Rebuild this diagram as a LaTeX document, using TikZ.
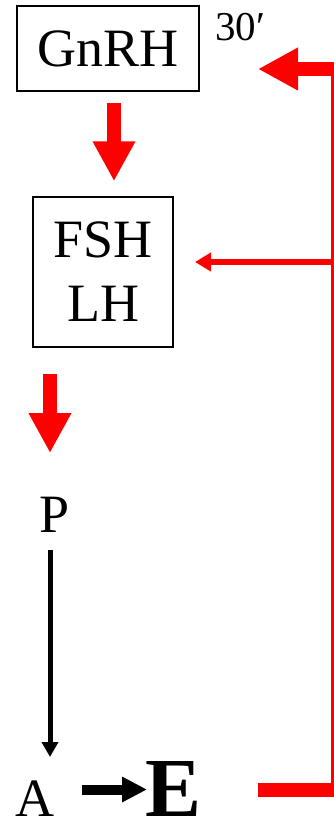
\documentclass[tikz,border=0pt]{standalone}
\usepackage{fontspec}
\setmainfont{Liberation Serif}
\usetikzlibrary{arrows.meta}
\tikzset{
  boxnode/.style={draw, line width=1.5pt, inner sep=0pt, font=\fontsize{54}{64}\selectfont},
  plain/.style={inner sep=0pt, font=\fontsize{54}{64}\selectfont},
  bigred/.style={draw=red, line width=14pt, -{Triangle[length=40pt,width=40pt]}},
  thinred/.style={draw=red, line width=5.5pt, -{Triangle[length=16pt,width=18pt]}},
  blackline/.style={draw=black, line width=5pt, -{Triangle[length=15pt,width=16pt]}},
  blackthick/.style={draw=black, line width=10pt, -{Triangle[length=25pt,width=24pt]}},
  fbline/.style={draw=red, line width=14pt},
  fbthin/.style={draw=red, line width=3pt}
}
\begin{document}
\begin{tikzpicture}[x=1pt,y=1pt]
\useasboundingbox (0,0) rectangle (334,-823);
\node[boxnode, minimum width=182pt, minimum height=85pt] (gnrh) at (108,-48.5) {GnRH};
\node[boxnode, minimum width=140pt, minimum height=150pt, align=center] (fsh) at (103,-272) {FSH\\LH};
\node[inner sep=0pt, font=\fontsize{41}{48}\selectfont] (t30) at (240,-27.5) {30′};
\node[plain] (P) at (54.5,-514.5) {P};
\node[plain] (A) at (35,-799) {A};
\node[inner sep=0pt, font=\fontsize{84}{90}\bfseries] (E) at (173.5,-789) {E};
\coordinate (pStart) at (50,-550);
\coordinate (aTop) at (50,-757);
\coordinate (pTop) at (50,-453);
\coordinate (fshBot) at (50,-374);
\coordinate (fb1) at (258,-789.5);
\coordinate (fb2) at (334,-789.5);
\coordinate (fb3) at (332.5,-796);
\coordinate (fb4) at (332.5,-62);
\coordinate (fb5) at (334,-69);
\coordinate (fbtip) at (258,-69);
\coordinate (fbm) at (332.5,-262);
\coordinate (fshtip) at (195,-262);
% GnRH -> FSH
\draw[bigred] ([xshift=6pt,yshift=-11pt]gnrh.south) -- ([xshift=11pt,yshift=15pt]fsh.north);
% FSH -> P
\draw[bigred] (fshBot) -- (pTop);
% P -> A
\draw[blackline] (pStart) -- (aTop);
% A -> E
\draw[blackthick] (82,-789.5) -- (147,-789.5);
% feedback
\draw[fbline] (fb1) -- (fb2);
\draw[fbthin] (fb3) -- (fb4);
\draw[bigred] (fb5) -- (fbtip);
\draw[thinred] (fbm) -- (fshtip);
\end{tikzpicture}
\end{document}
